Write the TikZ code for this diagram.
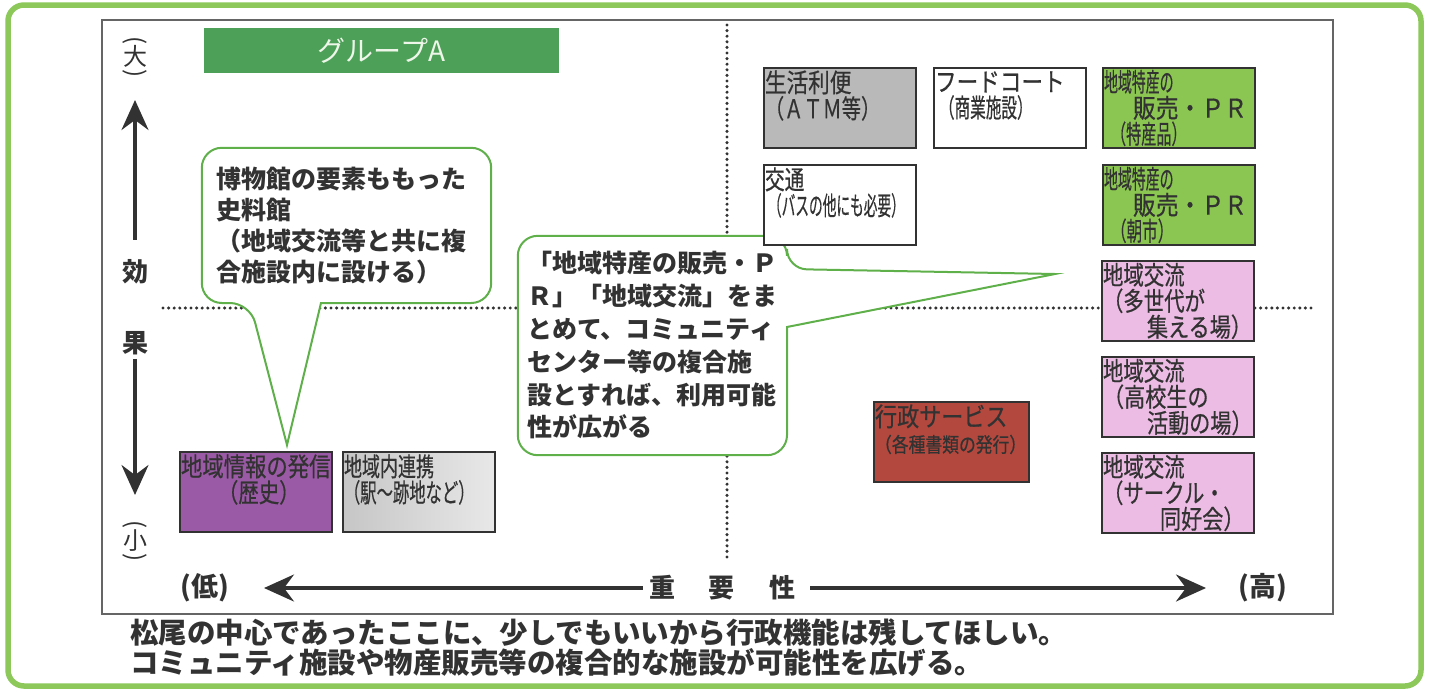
\documentclass[tikz,border=0pt]{standalone}
\usepackage{fontspec}
\setmainfont{Noto Sans CJK JP}
\newfontfamily\cellfont[FakeBold=0.6]{Noto Sans CJK JP}
\usepackage{graphicx}
\usepackage{tikz}
\usetikzlibrary{arrows.meta}
\usetikzlibrary{backgrounds}
\usepackage{xcolor}

\definecolor{rimgreen}{RGB}{140,200,90}
\definecolor{bargreen}{RGB}{76,160,88}
\definecolor{linegreen}{RGB}{95,175,75}
\definecolor{ink}{RGB}{50,50,50}
\definecolor{cellgray}{RGB}{185,185,185}
\definecolor{cellsilver}{RGB}{198,198,198}
\definecolor{cellpale}{RGB}{232,232,232}
\definecolor{cellgreen}{RGB}{140,198,82}
\definecolor{cellpink}{RGB}{236,188,228}
\definecolor{cellbrown}{RGB}{178,72,62}
\definecolor{cellpurple}{RGB}{155,90,165}
\newcommand{\hsq}[2]{\scalebox{#1}[1.08]{#2}}

\begin{document}
\begin{tikzpicture}[x=1pt,y=-1pt,
    cell/.style={draw=ink, line width=2pt, anchor=north west, text width=150pt, minimum height=80pt,
        inner xsep=1pt, inner ysep=1pt, align=left, text=ink, font=\cellfont\fontsize{24}{26}\selectfont},
    balloon/.style={draw=linegreen, line width=2pt, fill=white},
    talk/.style={align=left, inner ysep=0pt, text=ink, font=\bfseries\fontsize{25}{31}\selectfont},
    axisarrow/.style={draw=ink, line width=3.4pt, -{Stealth[length=30pt,width=27pt,inset=10pt]}},
    axislabel/.style={inner sep=0pt, text=ink, font=\bfseries\fontsize{26}{26}\selectfont},
    vlabel/.style={inner sep=0pt, align=center, text=ink, font=\fontsize{24}{4}\selectfont},
    dotline/.style={draw=ink, line width=3.4pt, line cap=round, dash pattern=on 0pt off 5.6pt}]
    \useasboundingbox (0,0) rectangle (1431,691);
    \draw[rimgreen, line width=5.5pt, rounded corners=16pt] (8,5) rectangle (1421,686);
    \draw[ink!75, line width=1.5pt] (102,20) rectangle (1333,614);
    \node[fill=bargreen, minimum width=355pt, minimum height=45pt, text={rgb,255:red,238;green,246;blue,234},
        font=\fontsize{28}{28}\selectfont] (groupA) at (381.5,50.5) {グループA};

    \node[vlabel] (big) at (135,57) {\rotatebox{-90}{(}\\大\\\rotatebox{-90}{)}};
    \node[axislabel] (eff1) at (135,272) {効};
    \node[axislabel] (eff2) at (135,343) {果};
    \node[vlabel] (small) at (135,541) {\rotatebox{-90}{(}\\小\\\rotatebox{-90}{)}};
    \node[axislabel, font=\bfseries\fontsize{27}{27}\selectfont] (low) at (205,588) {(低)};
    \node[axislabel, font=\bfseries\fontsize{27}{27}\selectfont] (high) at (1263,588) {(高)};
    \node[axislabel] (imp) at (722,588) {重\hspace{34pt}要\hspace{34pt}性};
    \coordinate (uptip) at (135,100);
    \coordinate (downtip) at (135,495);
    \coordinate (lefttip) at (264,588);
    \coordinate (righttip) at (1206,588);
    \draw[axisarrow, shorten <=20pt] (eff1.north) -- (uptip);
    \draw[axisarrow, shorten <=4pt] (eff2.south) -- (downtip);
    \draw[axisarrow, shorten <=6pt] (imp.west) -- (lefttip);
    \draw[axisarrow, shorten <=15pt] (imp.east) -- (righttip);

    \node[talk, text width=261pt, inner xsep=14pt, minimum height=155pt] (museum) at (346.5,225.5)
        {博物館の要素ももった\\史料館\\（地域交流等と共に複\\合施設内に設ける）};
    \node[talk, text width=251pt, inner xsep=9pt, minimum height=219pt, font=\bfseries\fontsize{25}{32.8}\selectfont]
        (merge) at (652.5,345.5)
        {「地域特産の販売・Ｐ\\Ｒ」「地域交流」をま\\とめて、コミュニティ\\センター等の複合施\\設とすれば、利用可能\\性が広がる};
    \coordinate (museumtip) at (287,445);
    \coordinate (mergetip) at (1055,274);
    \begin{scope}[on background layer]
        \draw[dotline] (727,25) -- (727,562);
        \draw[dotline] (163,308) -- (1311,308);
        \draw[balloon] (museum.west) [rounded corners=20pt] |- (250,303) [sharp corners] -- (museumtip) -- (321,303)
            [rounded corners=20pt] -| (museum.north east) -- (museum.north west) -- cycle;
        \draw[balloon] (merge.north) [rounded corners=20pt] -| (787,269) [sharp corners] -- (mergetip) -- (787,327)
            [rounded corners=20pt] |- (merge.south west) -- (merge.north west) -- cycle;
    \end{scope}

    \node[cell, fill=cellgray] (convenience) at (763,67) {\hsq{.9}{生活利便}\\\hsq{.8}{（ＡＴＭ等）}\\\vphantom{地}};
    \node[cell, fill=white] (foodcourt) at (933,67) {\hsq{.9}{フードコート}\\\hspace*{4pt}\hsq{.65}{（商業施設）}\\\vphantom{地}};
    \node[cell, fill=cellgreen] (specialty) at (1102,67) {\hsq{.58}{地域特産の}\\\hspace*{29pt}\hsq{.95}{販売・ＰＲ}\\\hspace*{7pt}\hsq{.63}{（特産品）}};
    \node[cell, fill=white] (transport) at (763,164) {\hsq{.82}{交通}\\\hspace*{3pt}\hsq{.57}{（バスの他にも必要）}\\\vphantom{地}};
    \node[cell, fill=cellgreen] (market) at (1102,164) {\hsq{.58}{地域特産の}\\\hspace*{29pt}\hsq{.95}{販売・ＰＲ}\\\hspace*{7pt}\hsq{.65}{（朝市）}};
    \node[cell, fill=cellpink] (generations) at (1101,260) {\hsq{.85}{地域交流}\\\hsq{.85}{（多世代が}\\\hspace*{44pt}\hsq{.88}{集える場）}};
    \node[cell, fill=cellpink] (students) at (1101,356) {\hsq{.85}{地域交流}\\\hsq{.88}{（高校生の}\\\hspace*{44pt}\hsq{.88}{活動の場）}};
    \node[cell, fill=cellpink] (circles) at (1101,452) {\hsq{.85}{地域交流}\\\hsq{.85}{（サークル・}\\\hspace*{57pt}\hsq{.88}{同好会）}};
    \node[cell, fill=cellbrown, text width=153pt] (admin) at (873,401) {\hsq{.92}{行政サービス}\\\scalebox{.7}[.85]{（各種書類の発行）}\\\vphantom{地}};
    \node[cell, fill=cellpurple] (history) at (179,451) {\hsq{.89}{地域情報の発信}\\\hspace*{37pt}\hsq{.85}{（歴史）}\\\vphantom{地}};
    \node[cell, left color=cellsilver, middle color=cellsilver, right color=cellpale] (linkage) at (342,451)
        {\hsq{.75}{地域内連携}\\\hsq{.68}{（駅～跡地など）}\\\vphantom{地}};

    \node[anchor=west, inner sep=0pt, align=left, text=ink, font=\bfseries\fontsize{28.5}{29.5}\selectfont] (note) at (130,647.5)
        {松尾の中心であったここに、少しでもいいから行政機能は残してほしい。\\コミュニティ施設や物産販売等の複合的な施設が可能性を広げる。};
\end{tikzpicture}
\end{document}
